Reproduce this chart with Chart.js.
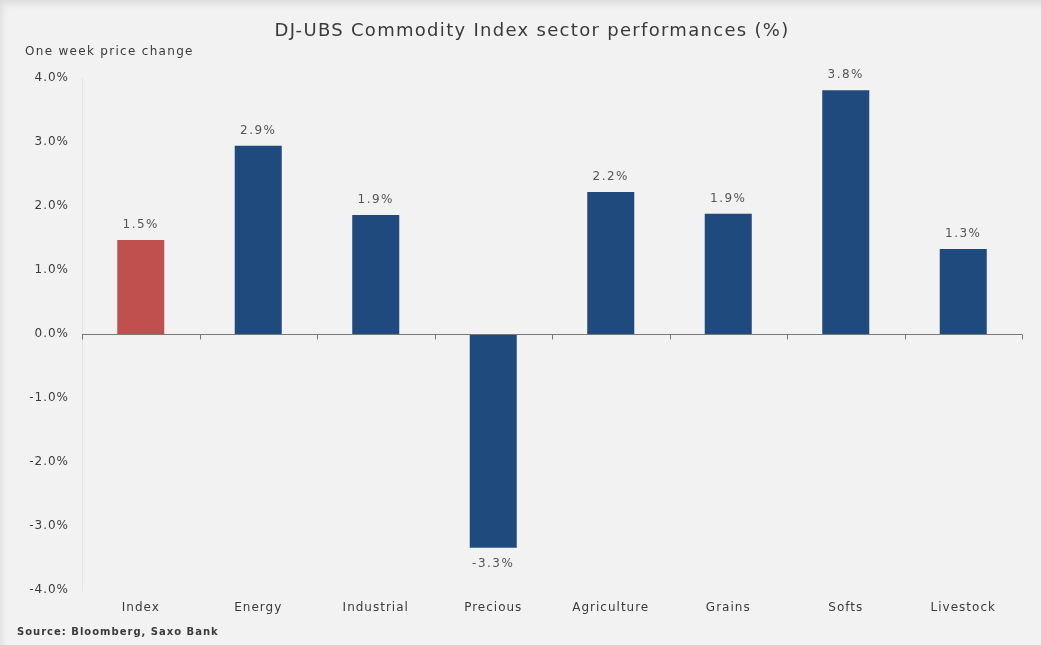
<!DOCTYPE html>
<html>
<head>
<meta charset="utf-8">
<script src="https://cdn.jsdelivr.net/npm/chart.js@4.4.1/dist/chart.umd.min.js"></script>
<style>
  html, body { margin: 0; padding: 0; background: #f2f2f2; }
  #wrap { position: relative; width: 1041px; height: 645px; box-shadow: inset 6px 8px 10px -6px rgba(0,0,0,0.12); }
</style>
</head>
<body>
<div id="wrap"><canvas id="chart" width="1041" height="645"></canvas></div>
<script>
// sectors, one-week price change (%)
const sectors = ["Index", "Energy", "Industrial", "Precious", "Agriculture", "Grains", "Softs", "Livestock"];
const changes = [1.47, 2.94, 1.86, -3.34, 2.22, 1.88, 3.81, 1.33];
const barColors = ["#c0504d", "#1f4a7e", "#1f4a7e", "#1f4a7e", "#1f4a7e", "#1f4a7e", "#1f4a7e", "#1f4a7e"];
const yTicks = [-4, -3, -2, -1, 0, 1, 2, 3, 4];

const titleText = "DJ-UBS Commodity Index sector performances (%)";
const subtitleText = "One week price change";
const sourceText = "Source: Bloomberg, Saxo Bank";

const FONT = "'DejaVu Sans', Verdana, sans-serif";
const TEXT = "#3a3a3a";

// the source chart's text is wide, so space the letters out a bit
const spacingPlugin = {
  id: "spacing",
  beforeDraw(chart) {
    chart.ctx.letterSpacing = "1px";
  },
};

// zero line + tick marks between categories, y labels, value labels, titles
const decorPlugin = {
  id: "decor",
  afterDatasetsDraw(chart) {
    const { ctx, chartArea, scales } = chart;
    const x = scales.x, y = scales.y;
    const y0 = Math.round(y.getPixelForValue(0)) + 0.5;

    ctx.save();
    ctx.strokeStyle = "#777";
    ctx.lineWidth = 1;
    ctx.beginPath();
    ctx.moveTo(chartArea.left, y0);
    ctx.lineTo(chartArea.right, y0);
    const step = x.getPixelForValue(1) - x.getPixelForValue(0);
    for (let i = 0; i <= sectors.length; i++) {
      const px = Math.round(x.getPixelForValue(i) - step / 2) + 0.5;
      ctx.moveTo(px, y0);
      ctx.lineTo(px, y0 + 5);
    }
    ctx.stroke();

    // y tick labels
    ctx.letterSpacing = "1px";
    ctx.font = "12px " + FONT;
    ctx.fillStyle = TEXT;
    ctx.textAlign = "right";
    ctx.textBaseline = "middle";
    yTicks.forEach((v) => {
      ctx.fillText(v.toFixed(1) + "%", chartArea.left - 13, y.getPixelForValue(v));
    });

    // value labels
    ctx.letterSpacing = "1.5px";
    ctx.font = "12px " + FONT;
    ctx.fillStyle = "#555";
    ctx.textAlign = "center";
    const meta = chart.getDatasetMeta(0);
    meta.data.forEach((bar, i) => {
      const v = changes[i];
      const label = v.toFixed(1) + "%";
      if (v >= 0) {
        ctx.textBaseline = "bottom";
        ctx.fillText(label, bar.x, bar.y - 9);
      } else {
        ctx.textBaseline = "top";
        ctx.fillText(label, bar.x, bar.y + 10);
      }
    });

    // titles
    ctx.fillStyle = TEXT;
    ctx.textBaseline = "middle";
    ctx.letterSpacing = "1.3px";
    ctx.font = "18px " + FONT;
    ctx.textAlign = "center";
    ctx.fillText(titleText, 532, 31);
    ctx.textAlign = "left";
    ctx.font = "12px " + FONT;
    ctx.fillText(subtitleText, 25, 52);
    ctx.letterSpacing = "1px";
    ctx.font = "bold 10px " + FONT;
    ctx.fillText(sourceText, 17, 632);
    ctx.restore();
  },
};

new Chart(document.getElementById("chart"), {
  type: "bar",
  data: {
    labels: sectors,
    datasets: [
      {
        data: changes,
        backgroundColor: barColors,
        borderWidth: 0,
        categoryPercentage: 1,
        barPercentage: 0.4,
      },
    ],
  },
  options: {
    responsive: false,
    animation: false,
    layout: { padding: { top: 78, right: 19, bottom: 25, left: 0 } },
    plugins: { legend: { display: false }, tooltip: { enabled: false } },
    scales: {
      x: {
        grid: { display: false, drawTicks: false },
        border: { display: false },
        ticks: { color: TEXT, font: { family: FONT, size: 12 }, padding: 11, maxRotation: 0 },
        afterFit: (s) => { s.height = 30; },
      },
      y: {
        min: -4,
        max: 4,
        afterBuildTicks: (s) => { s.ticks = yTicks.map((v) => ({ value: v })); },
        grid: { display: false, drawTicks: false },
        border: { display: true, color: "#e4e4e4" },
        ticks: { display: false },
        afterFit: (s) => { s.width = 82; },
      },
    },
  },
  plugins: [spacingPlugin, decorPlugin],
});
</script>
</body>
</html>
